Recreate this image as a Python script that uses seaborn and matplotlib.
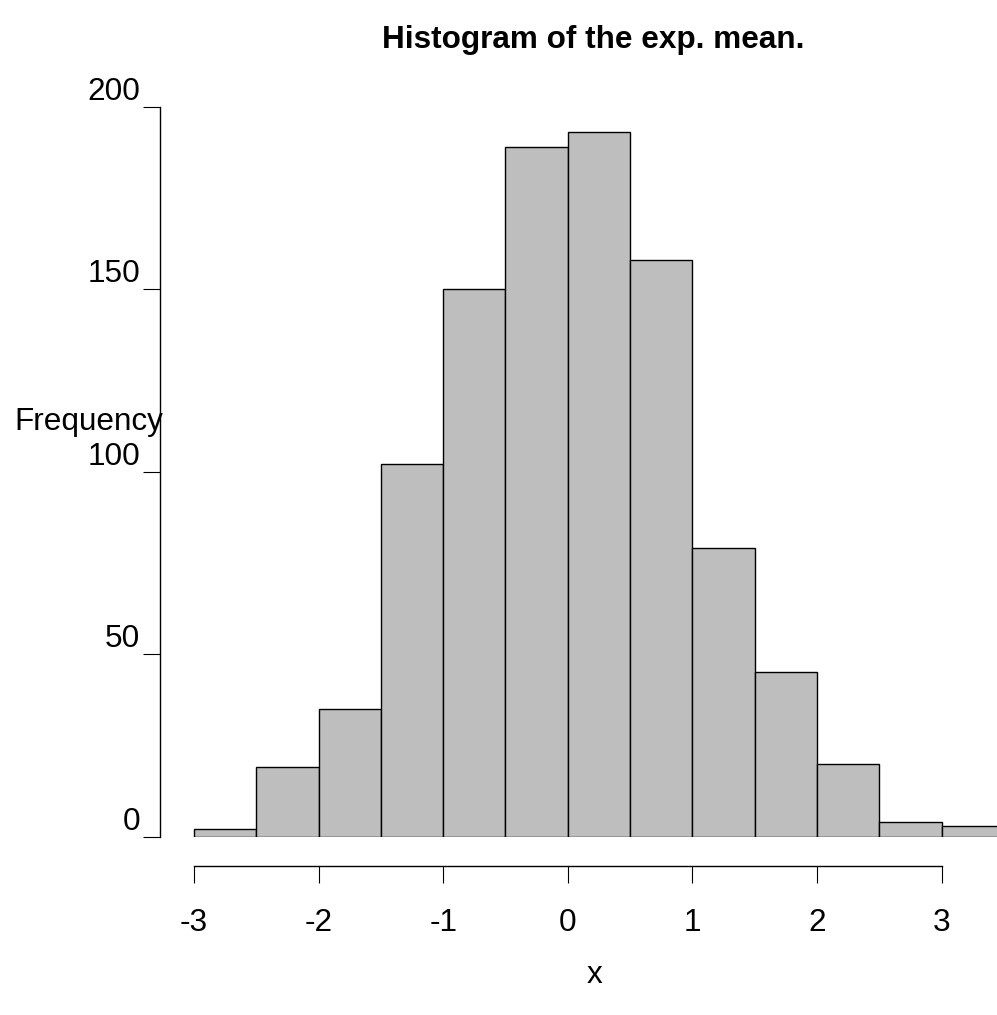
import numpy as np
import matplotlib
matplotlib.use("Agg")
import matplotlib.pyplot as plt
import seaborn as sns

# Histogram bins (width 0.5) and their counts
bin_edges = [-3.0, -2.5, -2.0, -1.5, -1.0, -0.5, 0.0, 0.5, 1.0, 1.5, 2.0, 2.5, 3.0, 3.5]
counts = [2, 19, 35, 102, 150, 189, 193, 158, 79, 45, 20, 4, 3]
x_ticks = [-3, -2, -1, 0, 1, 2, 3]
y_ticks = [0, 50, 100, 150, 200]

sns.set_style("white")
plt.rcParams["font.family"] = ["Liberation Sans", "DejaVu Sans"]
plt.rcParams["text.color"] = "black"
plt.rcParams["axes.labelcolor"] = "black"
plt.rcParams["xtick.color"] = "black"
plt.rcParams["ytick.color"] = "black"
FS = 22.7

W, H = 997, 1015
fig = plt.figure(figsize=(W / 100, H / 100), dpi=100)

# axes placement in pixel terms
px_left, px_right, px_top, px_bottom = 160, 1010, 100, 836.5
x_per_unit = 124.6
y_per_unit = 3.649
xmin = -3 - (194 - px_left) / x_per_unit
xmax = -3 + (px_right - 194) / x_per_unit
ymax = (px_bottom - px_top) / y_per_unit

ax = fig.add_axes([px_left / W, 1 - px_bottom / H,
                   (px_right - px_left) / W, (px_bottom - px_top) / H])

centers = [(a + b) / 2 for a, b in zip(bin_edges[:-1], bin_edges[1:])]
sns.histplot(x=centers, weights=counts, bins=bin_edges, ax=ax,
             color="#BEBEBE", edgecolor="black", linewidth=1.0, alpha=1.0)

ax.set_xlim(xmin, xmax)
ax.set_ylim(0, ymax)

for side in ("top", "right"):
    ax.spines[side].set_visible(False)
for side in ("left", "bottom"):
    ax.spines[side].set_color("black")
    ax.spines[side].set_linewidth(1.0)
ax.spines["left"].set_bounds(0, 200)
ax.spines["bottom"].set_bounds(-3, 3)
ax.spines["bottom"].set_position(("outward", 21.5))

ax.set_xticks(x_ticks)
ax.set_xticklabels([str(v) for v in x_ticks])
ax.set_yticks(y_ticks)
ax.set_yticklabels([str(v) for v in y_ticks])
ax.tick_params(axis="both", direction="out", length=12.2, width=0.8,
               colors="black", labelsize=FS, bottom=True, left=True)
ax.tick_params(axis="x", pad=18)
ax.tick_params(axis="y", pad=2)
for lbl in ax.get_yticklabels():
    lbl.set_va("bottom")

ax.set_xlabel("x", fontsize=FS, color="black")
ax.xaxis.set_label_coords(595 / W, 1 - 975 / H, transform=fig.transFigure)
ax.xaxis.label.set_va("center")

ax.set_ylabel("Frequency", fontsize=FS, rotation=0, ha="right", va="center",
              color="black")
ax.yaxis.set_label_coords(163 / W, 1 - 422 / H, transform=fig.transFigure)

ax.grid(False)

fig.suptitle("Histogram of the exp. mean.", x=593 / W, y=1 - 40 / H,
             va="center", ha="center", fontsize=FS, fontweight="bold",
             color="black")

fig.savefig("out.png", dpi=100, facecolor="white")
